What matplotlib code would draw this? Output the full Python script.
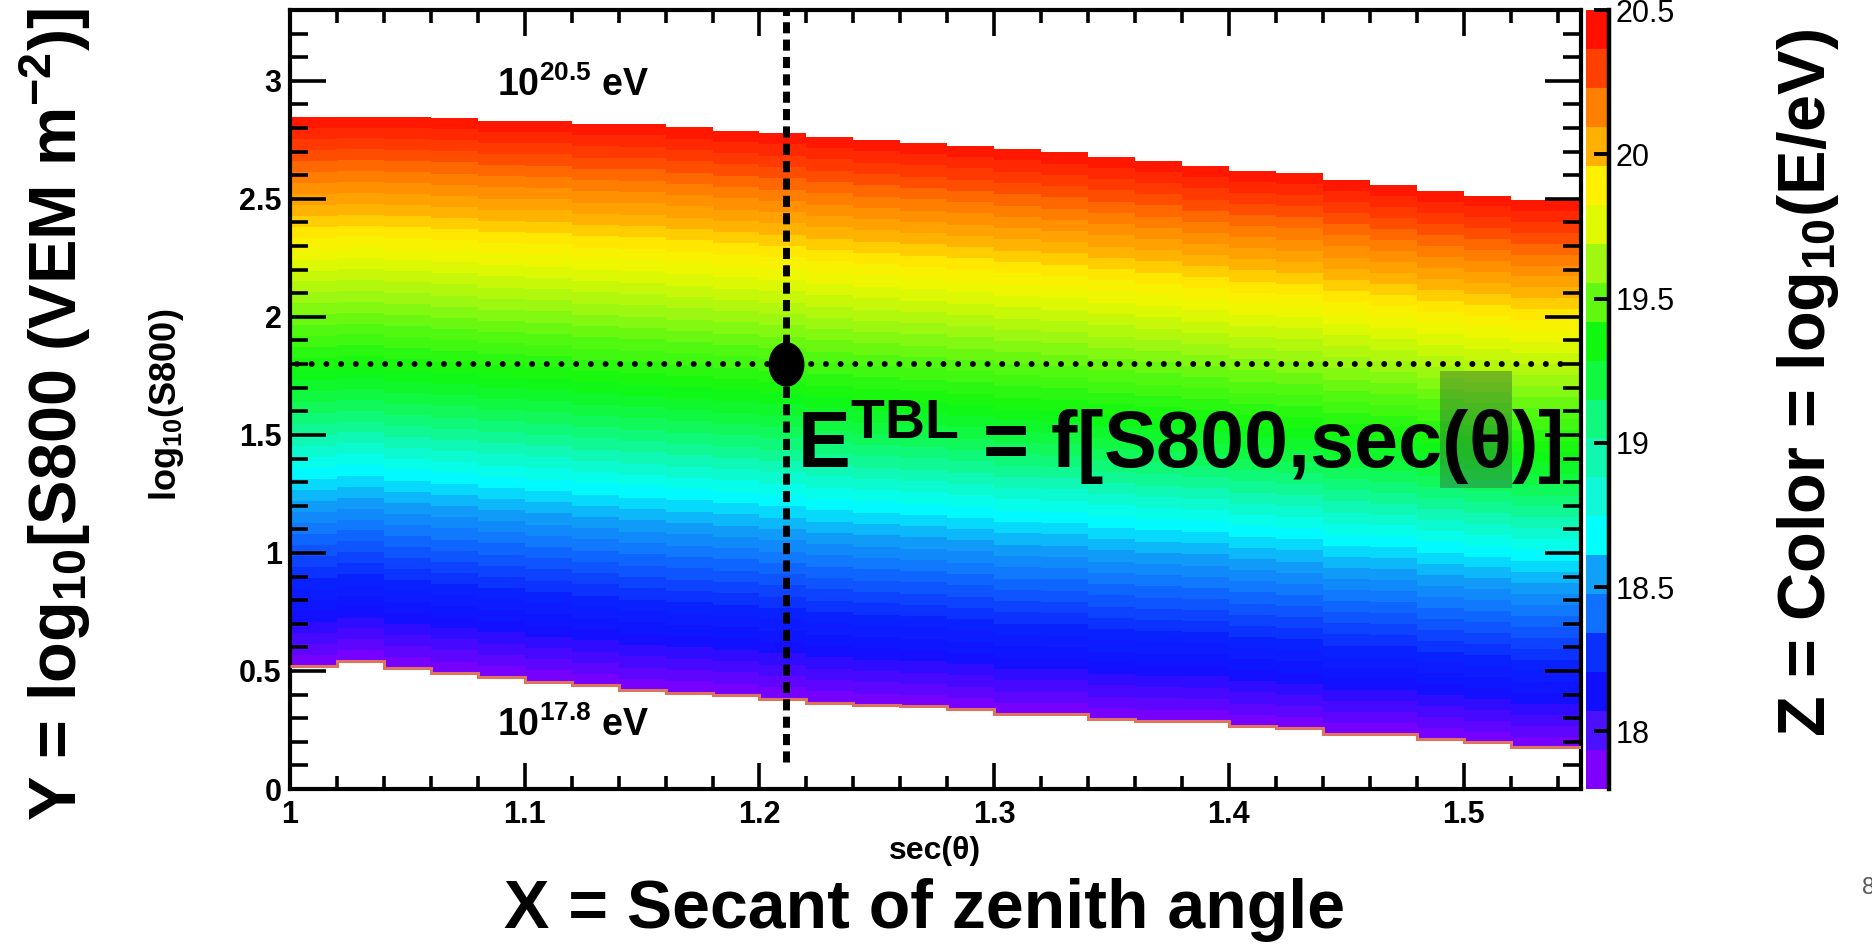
import numpy as np
import matplotlib
matplotlib.use("Agg")
import matplotlib.pyplot as plt
from matplotlib import font_manager
from matplotlib.cm import ScalarMappable
from matplotlib.colors import ListedColormap, BoundaryNorm, LinearSegmentedColormap
from matplotlib.patches import Rectangle
from matplotlib.path import Path
from matplotlib.ticker import MultipleLocator

# sec(theta) bins of the energy table (staircase steps)
sec_edges = [1.00, 1.02, 1.04, 1.06, 1.08, 1.10, 1.12, 1.14, 1.16, 1.18,
             1.20, 1.22, 1.24, 1.26, 1.28, 1.30, 1.32, 1.34, 1.36, 1.38,
             1.40, 1.42, 1.44, 1.46, 1.48, 1.50, 1.52, 1.54, 1.56]
# log10(S800) where the table reaches 10^17.8 eV (lower edge) and 10^20.5 eV (upper edge)
s800_low = [0.521, 0.542, 0.511, 0.493, 0.475, 0.455, 0.439, 0.418, 0.408, 0.399,
            0.383, 0.366, 0.356, 0.350, 0.338, 0.317, 0.317, 0.296, 0.289, 0.289,
            0.268, 0.258, 0.232, 0.232, 0.211, 0.197, 0.176, 0.176]
s800_high = [2.848, 2.848, 2.848, 2.842, 2.831, 2.831, 2.817, 2.817, 2.803, 2.789,
             2.779, 2.763, 2.749, 2.737, 2.725, 2.711, 2.697, 2.679, 2.662, 2.638,
             2.620, 2.610, 2.580, 2.559, 2.532, 2.514, 2.496, 2.496]
log_e_min, log_e_max = 17.8, 20.5
n_contours = 20      # bands on the colour scale
n_colors = 50        # palette colours used for the cells

x_ticks = [1, 1.1, 1.2, 1.3, 1.4, 1.5]
y_ticks = [0, 0.5, 1, 1.5, 2, 2.5, 3]
cbar_ticks = [18, 18.5, 19, 19.5, 20, 20.5]

# example event marked on the table
event_sec = 1.2115
event_s800 = 1.80

# ROOT style rainbow palette, bottom to top (colour scale bands)
band_colors = ['#7f00ff', '#4a10ff', '#1010ff', '#0a30ff', '#1070ff',
               '#10a0f8', '#00ffff', '#10f8d8', '#10f8b0', '#10f880',
               '#10f840', '#10f810', '#60f810', '#a0f810', '#e0f800',
               '#fff000', '#ffb000', '#ff8000', '#ff4000', '#ff1000']
# same palette as seen in the cells: (log10 E, colour)
cell_palette = [(17.8, '#7f00ff'), (18.05, '#1010ff'), (18.2, '#0a20ff'),
                (18.45, '#1070ff'), (18.6, '#10a0f8'), (18.75, '#00ffff'),
                (18.88, '#10f8c0'), (19.0, '#10f880'), (19.12, '#10f840'),
                (19.25, '#10f810'), (19.45, '#50f810'), (19.62, '#a0f810'),
                (19.8, '#e8f800'), (19.92, '#fff000'), (20.05, '#ffb000'),
                (20.2, '#ff8000'), (20.35, '#ff4000'), (20.5, '#ff1000')]


def has_font(name):
    try:
        font_manager.findfont(font_manager.FontProperties(family=name),
                              fallback_to_default=False)
        return True
    except ValueError:
        return False


NARROW = 'Liberation Sans Narrow' if has_font('Liberation Sans Narrow') else None
plt.rcParams['font.family'] = ['Liberation Sans', 'DejaVu Sans']
plt.rcParams['mathtext.default'] = 'regular'

W, H = 1872, 946
fig = plt.figure(figsize=(W / 100, H / 100), dpi=100)


def box(l, t, r, b):
    return [l / W, 1 - b / H, (r - l) / W, (b - t) / H]


ax = fig.add_axes(box(290, 10, 1581, 789))
cax = fig.add_axes(box(1586, 10, 1609, 789))

span = log_e_max - log_e_min
smooth = LinearSegmentedColormap.from_list(
    'pretty', [((z - log_e_min) / span, c) for z, c in cell_palette])
cell_levels = np.linspace(log_e_min, log_e_max, n_colors + 1)

# each sec(theta) column: energy runs from the lower to the upper edge
for i in range(len(s800_low)):
    l, r = sec_edges[i], sec_edges[i + 1]
    X = [[l, r], [l, r]]
    Y = [[s800_low[i], s800_low[i]], [s800_high[i], s800_high[i]]]
    Z = [[log_e_min, log_e_min], [log_e_max, log_e_max]]
    ax.contourf(X, Y, Z, levels=cell_levels, cmap=smooth, vmin=log_e_min,
                vmax=log_e_max, antialiased=False)

ax.stairs(s800_low, sec_edges, baseline=None, color='#e0735e', lw=2.2, zorder=3)

# guide lines and the event point
ax.plot([event_sec, event_sec], [0.113, 3.3], color='k', lw=5,
        ls=(0, (1.6, 0.9)), dash_capstyle='butt', zorder=4)
ax.plot([1.003, 1.543], [event_s800, event_s800], color='k', lw=4.3,
        ls=(0, (0.01, 2.45)), dash_capstyle='round', zorder=4)
circ = Path.unit_circle()
egg = Path(circ.vertices * [0.8, 1.0], circ.codes)
ax.plot(event_sec, event_s800, marker=egg, ms=31, color='k', ls='none', zorder=5)

ax.set_xlim(1, 1.55)
ax.set_ylim(0, 3.3)

etbl_kw = dict(family=[NARROW or 'Liberation Sans', 'DejaVu Sans'], fontweight='bold',
               fontsize=66 if NARROW else 57, ha='left', va='baseline')
etbl_x, etbl_y = 1.216, 1.36
etbl_head = r'E$^{TBL}$ = f[S800,sec'
ax.text(etbl_x, etbl_y, etbl_head + '(θ)]', zorder=7, **etbl_kw)

# highlight box over "(θ", placed from the measured text widths
renderer = fig.canvas.get_renderer()


def text_width(s):
    tmp = ax.text(etbl_x, etbl_y, s, **etbl_kw)
    w = tmp.get_window_extent(renderer).width
    tmp.remove()
    return w


x0_px = ax.transData.transform((etbl_x, etbl_y))[0]
inv = ax.transData.inverted()
hl_left = inv.transform((x0_px + text_width(etbl_head) - 2, 0))[0]
hl_right = inv.transform((x0_px + text_width(etbl_head + '(θ') + 2, 0))[0]
ax.add_patch(Rectangle((hl_left, 1.276), hl_right - hl_left, 0.494,
                       facecolor='#3a5a3a', alpha=0.4, lw=0, zorder=6))

ax.text(1.1207, 2.98, r'10$^{20.5}$ eV', ha='center', va='center',
        fontsize=27, fontweight='bold')
ax.text(1.1207, 0.27, r'10$^{17.8}$ eV', ha='center', va='center',
        fontsize=27, fontweight='bold')

ax.set_xticks(x_ticks, [f'{v:g}' for v in x_ticks])
ax.set_yticks(y_ticks, [f'{v:g}' for v in y_ticks])
ax.xaxis.set_minor_locator(MultipleLocator(0.02))
ax.yaxis.set_minor_locator(MultipleLocator(0.1))
ax.tick_params(which='both', direction='in', top=True, right=True, width=2.6,
               labelsize=22)
ax.tick_params(axis='y', which='major', length=26, pad=6)
ax.tick_params(axis='y', which='minor', length=13)
ax.tick_params(axis='x', which='major', length=19, pad=8)
ax.tick_params(axis='x', which='minor', length=9.5)
for lab in ax.get_xticklabels() + ax.get_yticklabels():
    lab.set_fontweight('bold')
for sp in ax.spines.values():
    sp.set_linewidth(3)

# colour scale, 20 contour bands
band_levels = np.linspace(log_e_min, log_e_max, n_contours + 1)
band_cmap = ListedColormap(band_colors)
sm = ScalarMappable(norm=BoundaryNorm(band_levels, band_cmap.N), cmap=band_cmap)
cb = fig.colorbar(sm, cax=cax)
cb.set_ticks(cbar_ticks, labels=[f'{v:g}' for v in cbar_ticks])
cb.outline.set_visible(False)
cb.minorticks_off()
cax.axvline(1, color='k', lw=3.2, clip_on=False)
cax.tick_params(axis='y', direction='in', length=11, width=2.8, labelsize=22, pad=5)

# axis titles
fig.text(167 / W, 1 - 405 / H, r'log$_{10}$(S800)', rotation=90, ha='center',
         va='center', fontsize=26, fontweight='bold')
fig.text(935 / W, 1 - 851 / H, 'sec(θ)', ha='center', va='center',
         fontsize=23, fontweight='bold')
fig.text(55 / W, 1 - 414 / H, r'Y = log$_{10}$[S800 (VEM m$^{-2}$)]', rotation=90,
         ha='center', va='center', fontsize=48, fontweight='bold')
fig.text(925 / W, 1 - 910 / H, 'X = Secant of zenith angle', ha='center',
         va='center', fontsize=49, fontweight='bold')
fig.text(1808 / W, 1 - 383 / H, r'Z = Color = log$_{10}$(E/eV)', rotation=90,
         ha='center', va='center', fontsize=48, fontweight='bold')
fig.text(1862 / W, 1 - 888 / H, '8', ha='left', va='center', fontsize=17,
         color='#595959')

fig.savefig('out.png', dpi=100)
